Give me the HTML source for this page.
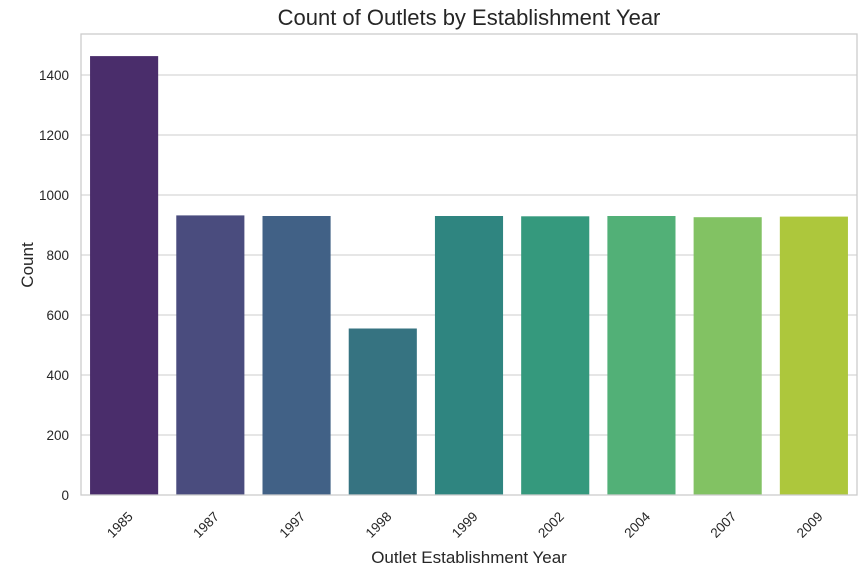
<!DOCTYPE html>
<html><head><meta charset="utf-8"><style>
body{margin:0;background:#fff;font-family:"Liberation Sans",sans-serif}
</style></head><body>
<svg id="chart" width="865" height="577" style="display:block">
<rect width="865" height="577" fill="#fff"/>
<text x="469" y="25" text-anchor="middle" font-size="22" fill="#262626">Count of Outlets by Establishment Year</text>
<g id="grid"></g>
<g id="bars"></g>
<rect x="81" y="34" width="776" height="461" fill="none" stroke="#cccccc" stroke-width="1.3"/>
<g id="yticks"></g>
<g id="xticks"></g>
<text x="469" y="563" text-anchor="middle" font-size="17" fill="#262626">Outlet Establishment Year</text>
<text transform="translate(33,265) rotate(-90)" text-anchor="middle" font-size="17" fill="#262626">Count</text>
</svg>
<script>
const categories = ["1985","1987","1997","1998","1999","2002","2004","2007","2009"];
const counts = [1463, 932, 930, 555, 930, 929, 930, 926, 928];
const yTicks = [0,200,400,600,800,1000,1200,1400];
const colors = ["#4a2d6b","#4a4c7e","#416186","#367381","#2f8580","#35997d","#52b077","#82c263","#adc73c"];
const NS="http://www.w3.org/2000/svg";
const L=81,R=857,B=495,T=34;
const yScale=v=>B-v*0.3;
const step=(R-L)/categories.length;
const xCenter=i=>L+step*(i+0.5);
const bw=step*0.79;
const grid=document.getElementById('grid'),bars=document.getElementById('bars'),yt=document.getElementById('yticks'),xt=document.getElementById('xticks');
yTicks.forEach(v=>{
  const y=yScale(v);
  const l=document.createElementNS(NS,'line');
  l.setAttribute('x1',L);l.setAttribute('x2',R);l.setAttribute('y1',y);l.setAttribute('y2',y);
  l.setAttribute('stroke','#cccccc');l.setAttribute('stroke-width','1.1');
  
  
  grid.appendChild(l);
  const t=document.createElementNS(NS,'text');
  t.setAttribute('x',L-12);t.setAttribute('y',y+5);t.setAttribute('text-anchor','end');
  t.setAttribute('font-size','13.5');t.setAttribute('fill','#262626');t.textContent=v;
  
  
  yt.appendChild(t);
});
categories.forEach((c,i)=>{
  const cx=xCenter(i);
  const r=document.createElementNS(NS,'rect');
  r.setAttribute('x',cx-bw/2);r.setAttribute('width',bw);
  r.setAttribute('y',yScale(counts[i]));r.setAttribute('height',B-yScale(counts[i]));
  r.setAttribute('fill',colors[i]);
  
  
  bars.appendChild(r);
  const t=document.createElementNS(NS,'text');
  t.setAttribute('transform','translate('+(cx-1)+',528) rotate(-45)');
  t.setAttribute('text-anchor','middle');t.setAttribute('font-size','13.5');t.setAttribute('fill','#262626');
  t.textContent=c;
  
  
  xt.appendChild(t);
});
</script>
</body></html>
